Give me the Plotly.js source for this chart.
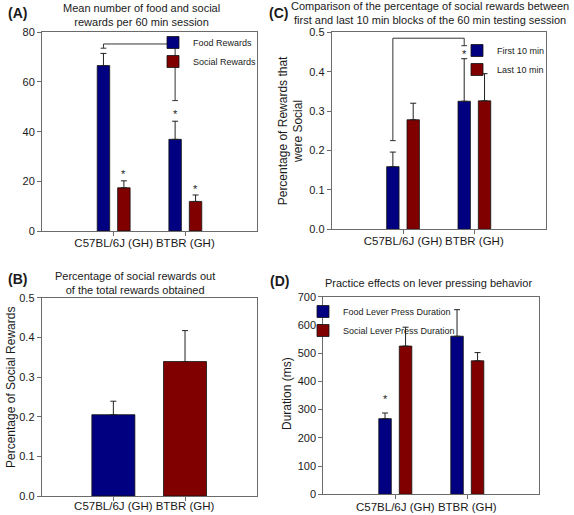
<!DOCTYPE html>
<html><head><meta charset="utf-8">
<script src="https://cdn.plot.ly/plotly-3.0.1.min.js"></script>
<style>html,body{margin:0;padding:0;background:#fff}#chart{width:574px;height:515px}</style>
</head><body><div id="chart"></div>
<script>
// ---------- data ----------
const categories = ['C57BL/6J (GH)', 'BTBR (GH)'];

// (A) Mean number of food and social rewards per 60 min session
const aFood = [66.6, 36.9];
const aFoodErr = [4.9, 7.3];
const aSocial = [17.4, 11.9];
const aSocialErr = [2.8, 2.6];
const aBracketTop = 75.3;
const aBracketEnds = [73.6, 52.5];
const aStarCat = [0, 1, 1];
const aStarSeries = [1, 0, 1];
const aStarY = [24.2, 48.5, 18.0];

// (B) Percentage of social rewards out of the total rewards obtained
const bPct = [0.205, 0.339];
const bPctErr = [0.034, 0.078];

// (C) first vs last 10 min
const cFirst = [0.159, 0.325];
const cFirstErr = [0.037, 0.108];
const cLast = [0.278, 0.326];
const cLastErr = [0.042, 0.069];
const cBracketTop = 0.485;
const cBracketEnds = [0.225, 0.466];
const cStarCat = [1];
const cStarSeries = [0];
const cStarY = [0.452];

// (D) Practice effects on lever pressing behavior
const dFood = [268, 560];
const dFoodErr = [20, 94];
const dSocial = [525, 473];
const dSocialErr = [67, 29];
const dStarCat = [0];
const dStarSeries = [0];
const dStarY = [348];

// ---------- style ----------
const W = 574, H = 515;
const FONT = 'Liberation Sans, Arial, Helvetica, sans-serif';
const BLUE = '#000080', RED = '#800000';
const TXT = '#1a1a1a', AX = '#6b6b6b';
const BARGAP = 0.43, GROUPGAP = 0.39;
const slot = (1 - BARGAP) / 2;
const off = i => -(1 - BARGAP) / 2 + slot * (i + 0.5);
const capHalf = 0.04;

const xd = (a, b) => [a / W, b / W];
const yd = (top, bot) => [(H - bot) / H, (H - top) / H];
const px = v => v / W, py = v => (H - v) / H;

function upErr(arr) {
  return {type: 'data', symmetric: false, array: arr, arrayminus: arr.map(() => 0),
          color: '#222', thickness: 1, width: 3};
}
function bar(name, y, err, color, xa, ya, legend, show) {
  return {type: 'bar', name, x: categories, y, error_y: upErr(err),
    marker: {color, line: {color: '#111', width: 0.8}}, xaxis: xa, yaxis: ya,
    legend, showlegend: show, hoverinfo: 'skip'};
}

const traces = [
  bar('Food Rewards', aFood, aFoodErr, BLUE, 'x', 'y', 'legend', true),
  bar('Social Rewards', aSocial, aSocialErr, RED, 'x', 'y', 'legend', true),
  Object.assign(bar('Percentage of Social Rewards', bPct, bPctErr, [BLUE, RED], 'x2', 'y2', 'legend', false), {width: 0.6}),
  bar('First 10 min', cFirst, cFirstErr, BLUE, 'x3', 'y3', 'legend2', true),
  bar('Last 10 min', cLast, cLastErr, RED, 'x3', 'y3', 'legend2', true),
  bar('Food Lever Press Duration', dFood, dFoodErr, BLUE, 'x4', 'y4', 'legend3', true),
  bar('Social Lever Press Duration', dSocial, dSocialErr, RED, 'x4', 'y4', 'legend3', true)
];

function xAx(domain, anchor, standoff) {
  return {domain, anchor, type: 'category', range: [-1, 2], showline: true, mirror: true,
    linecolor: AX, linewidth: 1, ticks: 'outside', ticklen: 4, tickcolor: AX,
    ticklabelstandoff: standoff,
    tickfont: {family: FONT, size: 11.5, color: TXT}, showgrid: false, zeroline: false,
    automargin: false, fixedrange: true};
}
function yAx(domain, anchor, max, dtick, fmt) {
  return {domain, anchor, range: [0, max], dtick, tick0: 0, tickformat: fmt, showline: true, mirror: true,
    linecolor: AX, linewidth: 1, ticks: 'outside', ticklen: 4, tickcolor: AX,
    tickfont: {family: FONT, size: 11, color: TXT}, showgrid: false, zeroline: false,
    automargin: false, fixedrange: true};
}

// significance brackets (data coordinates)
function bracket(xa, ya, cats, series, top, ends) {
  const xl = cats[0] + off(series), xr = cats[1] + off(series);
  const ln = {color: '#333', width: 1};
  const mk = (x0, y0, x1, y1) => ({type: 'line', xref: xa, yref: ya, x0, y0, x1, y1, line: ln});
  return [
    mk(xl, ends[0], xl, top), mk(xl, top, xr, top), mk(xr, top, xr, ends[1]),
    mk(xl - capHalf, ends[0], xl + capHalf, ends[0]), mk(xr - capHalf, ends[1], xr + capHalf, ends[1])
  ];
}
const shapes = [
  ...bracket('x', 'y', [0, 1], 0, aBracketTop, aBracketEnds),
  ...bracket('x3', 'y3', [0, 1], 0, cBracketTop, cBracketEnds)
];

function stars(xa, ya, cats, series, ys) {
  return ys.map((y, i) => ({xref: xa, yref: ya, x: cats[i] + off(series[i]), y, text: '*',
    showarrow: false, yanchor: 'middle', yshift: -3, font: {family: FONT, size: 11, color: TXT}}));
}
function note(text, x, y, size, bold, angle) {
  return {xref: 'paper', yref: 'paper', x: px(x), y: py(y), text: bold ? '<b>' + text + '</b>' : text,
    showarrow: false, xanchor: 'center', yanchor: 'middle', textangle: angle || 0,
    font: {family: FONT, size, color: TXT}};
}
const annotations = [
  ...stars('x', 'y', aStarCat, aStarSeries, aStarY),
  ...stars('x3', 'y3', cStarCat, cStarSeries, cStarY),
  ...stars('x4', 'y4', dStarCat, dStarSeries, dStarY),
  note('(A)', 17, 13.5, 14, true), note('(B)', 17, 279, 14, true),
  note('(C)', 278, 13.5, 14, true), note('(D)', 279, 280.7, 14, true),
  note('Mean number of food and social<br>rewards per 60 min session', 141.7, 14.5, 11),
  note('Percentage of social rewards out<br>of the total rewards obtained', 135, 283, 11),
  note('Comparison of the percentage of social rewards between<br>first and last 10 min blocks of the 60 min testing session', 430, 13.3, 11),
  note('Practice effects on lever pressing behavior', 428, 282.7, 11),
  note('Percentage of Social Rewards', 11, 388, 12, false, -90),
  note('Percentage of Rewards that<br>were Social', 290.5, 130.8, 12, false, -90),
  note('Duration (ms)', 287, 394, 12, false, -90)
];

const legStyle = {font: {family: FONT, size: 9, color: TXT}, bgcolor: 'rgba(0,0,0,0)',
  borderwidth: 0, xanchor: 'left', yanchor: 'top', tracegroupgap: 0};

const layout = {
  width: W, height: H, margin: {l: 0, r: 0, t: 0, b: 0},
  paper_bgcolor: '#fff', plot_bgcolor: '#fff',
  barmode: 'group', bargap: BARGAP, bargroupgap: GROUPGAP,
  font: {family: FONT, color: TXT},
  xaxis: xAx(xd(42, 257), 'y', -3), yaxis: yAx(yd(32.3, 231), 'x', 80, 20),
  xaxis2: xAx(xd(41.7, 256.7), 'y2', -5), yaxis2: yAx(yd(297.7, 496), 'x2', 0.5, 0.1, '.1f'),
  xaxis3: xAx(xd(331.7, 545.7), 'y3', -3), yaxis3: yAx(yd(32.3, 229.3), 'x3', 0.5, 0.1, '.1f'),
  xaxis4: xAx(xd(323.3, 539.3), 'y4', -2), yaxis4: yAx(yd(296.7, 494.3), 'x4', 700, 100),
  legend: Object.assign({}, legStyle, {x: px(153), y: py(28)}),
  legend2: Object.assign({}, legStyle, {x: px(457), y: py(36)}),
  legend3: Object.assign({}, legStyle, {x: px(303), y: py(297)}),
  shapes, annotations
};

Plotly.newPlot('chart', traces, layout, {staticPlot: true, displayModeBar: false});
</script></body></html>
